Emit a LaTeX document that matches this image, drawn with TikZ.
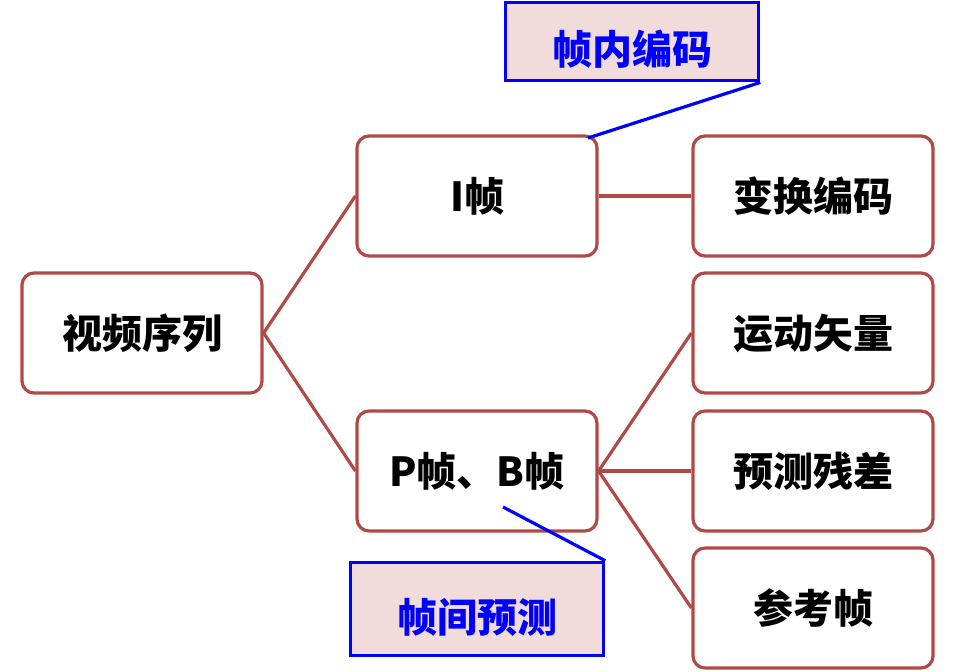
\documentclass[tikz,border=0pt]{standalone}
\usepackage{fontspec}
\newfontfamily\cjk{Noto Sans CJK SC}
\definecolor{boxred}{RGB}{176,74,71}
\definecolor{notepink}{RGB}{242,220,219}
\tikzset{
    framebox/.style={draw=boxred, line width=2.4pt, rounded corners=9pt, fill=white,
        minimum width=180pt, minimum height=90pt, font=\cjk\bfseries\fontsize{30}{31}\selectfont},
    notebox/.style={draw=blue, line width=2.4pt, fill=notepink, text=blue,
        minimum width=190pt, text height=35pt, text depth=0pt,
        font=\cjk\bfseries\fontsize{30}{31}\selectfont},
    link/.style={draw=boxred, line width=2.4pt},
    notelink/.style={draw=blue, line width=2.4pt}
}
\begin{document}
\begin{tikzpicture}[x=0.75pt, y=-0.75pt]
    \useasboundingbox (0,0) rectangle (955,671);

    % main tree
    \node[framebox] (seq) at (142,333) {视频序列};
    \node[framebox] (iframe) at (477,196) {I帧};
    \node[framebox] (pbframe) at (477,471) {P帧、B帧};
    \node[framebox] (trans) at (813,196) {变换编码};
    \node[framebox] (motion) at (813,333) {运动矢量};
    \node[framebox] (resid) at (813,471) {预测残差};
    \node[framebox] (ref) at (813,608) {参考帧};

    \draw[link] (seq.east) -- (iframe.west);
    \draw[link] (seq.east) -- (pbframe.west);
    \draw[link] (iframe.east) -- (trans.west);
    \foreach \t in {motion,resid,ref}
    \draw[link] (pbframe.east) -- (\t.west);

    % callouts
    \node[notebox, minimum height=59pt] (intra) at (632,41.5) {帧内编码};
    \node[notebox, minimum height=70pt] (inter) at (477,609) {帧间预测};
    \coordinate (intratip) at (588,138);
    \coordinate (intertip) at (503,507);
    \draw[notelink] (intra.south east) -- (intratip);
    \draw[notelink] (inter.north east) -- (intertip);
\end{tikzpicture}
\end{document}
